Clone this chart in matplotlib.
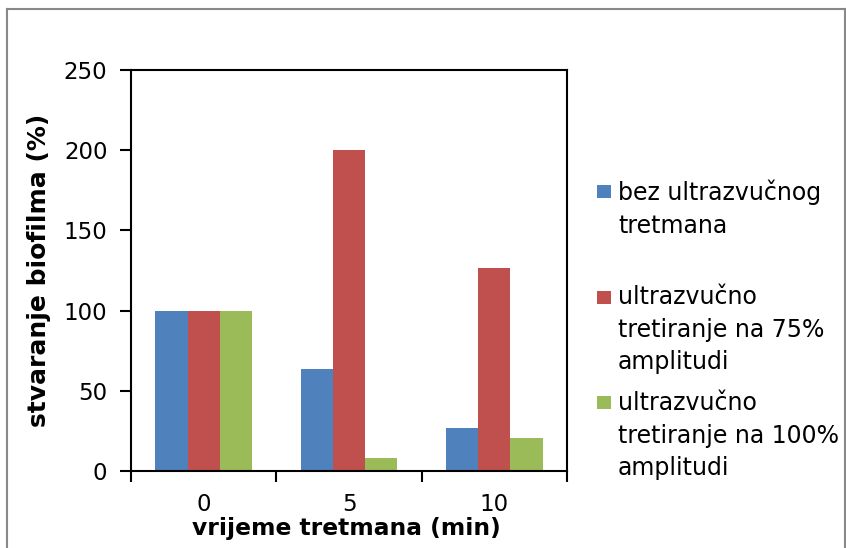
import matplotlib
matplotlib.use("Agg")
import matplotlib.pyplot as plt
from matplotlib.patches import Rectangle
from matplotlib.lines import Line2D
import numpy as np

categories = ["0", "5", "10"]
series_names = [
    "bez ultrazvučnog\ntretmana",
    "ultrazvučno\ntretiranje na 75%\namplitudi",
    "ultrazvučno\ntretiranje na 100%\namplitudi",
]
bez = [100, 63.5, 26.5]
amp75 = [100, 200, 126.5]
amp100 = [100, 8, 20.5]
colors = ["#4F81BD", "#C0504D", "#9BBB59"]
y_ticks = [0, 50, 100, 150, 200, 250]

plt.rcParams['font.family'] = ['DejaVu Sans']
fig = plt.figure(figsize=(8.46, 5.48), dpi=100)
W, H = 846, 548
ax = fig.add_axes([131 / W, 1 - 471 / H, (567 - 131) / W, (471 - 70) / H])

x = np.arange(len(categories))
bw = 0.667 / 3
for i, vals in enumerate([bez, amp75, amp100]):
    ax.bar(x + (i - 1) * bw, vals, width=bw, color=colors[i],
           edgecolor="none", linewidth=0, zorder=2)

ax.set_xlim(-0.5, len(categories) - 0.5)
ax.set_ylim(0, 250)
ax.set_yticks(y_ticks)
ax.set_yticklabels([str(t) for t in y_ticks], fontsize=16.5)
ax.set_xticks(x)
ax.set_xticklabels(categories, fontsize=16.5)
ax.tick_params(axis='x', length=0, pad=16)
ax.set_xticks(np.arange(-0.5, len(categories), 1.0), minor=True)
ax.tick_params(axis='x', which='minor', length=8, width=1.5, direction='out')
ax.tick_params(axis='y', length=8, width=1.5, direction='out', pad=9)
for s in ax.spines.values():
    s.set_linewidth(1.5)
    s.set_color("black")

ax.set_ylabel("stvaranje biofilma (%)", fontsize=18, fontweight='bold')
ax.yaxis.set_label_coords(-0.183, 0.5)
ax.set_xlabel("vrijeme tretmana (min)", fontsize=16.8, fontweight='bold')
ax.xaxis.set_label_coords(0.495, -0.114)

# legend (manual, top-aligned entries like Excel)
text_tops = [180, 285, 391]
square_tops = [185, 291, 396]
for i, name in enumerate(series_names):
    fig.patches.append(Rectangle((597 / W, 1 - (square_tops[i] + 13) / H), 14 / W, 13 / H,
                                 transform=fig.transFigure, facecolor=colors[i],
                                 edgecolor='none'))
    fig.text(618 / W, 1 - text_tops[i] / H, name, fontsize=17, va='top', ha='left',
             linespacing=1.45)

# outer chart border
lc = "#888888"
fig.add_artist(Line2D([7 / W, 7 / W], [0, 1 - 9 / H], transform=fig.transFigure, color=lc, lw=1.5))
fig.add_artist(Line2D([7 / W, 845 / W], [1 - 9 / H, 1 - 9 / H], transform=fig.transFigure, color=lc, lw=1.5))
fig.add_artist(Line2D([845 / W, 845 / W], [0, 1 - 9 / H], transform=fig.transFigure, color=lc, lw=1.5))

fig.savefig("out.png", dpi=100)
